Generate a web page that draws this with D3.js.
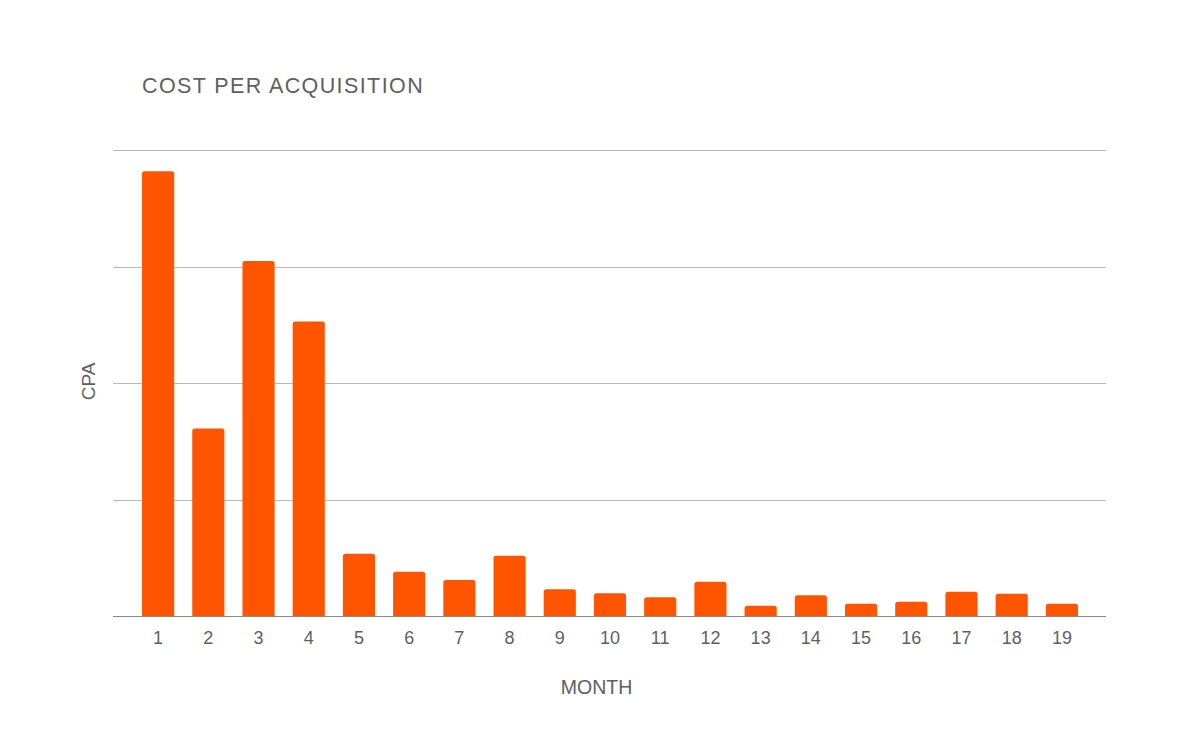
<!DOCTYPE html>
<html lang="en">
<head>
    <meta charset="UTF-8">
    <title>Cost per acquisition</title>
    <style>
        body { margin: 0; background: #fff; }
        text { font-family: "Liberation Sans", Arial, sans-serif; fill: #5f5f5f; }
    </style>
</head>
<body>
<script src="https://cdnjs.cloudflare.com/ajax/libs/d3/7.8.5/d3.min.js" charset="utf-8"></script>
<script>
    // values, one gridline step = 1 unit
    var months = ['1','2','3','4','5','6','7','8','9','10','11','12','13','14','15','16','17','18','19'];
    var cpa = [3.82, 1.61, 3.05, 2.53, 0.535, 0.38, 0.31, 0.518, 0.23, 0.195, 0.16, 0.295, 0.088, 0.178, 0.106, 0.123, 0.209, 0.192, 0.106];
    var gridTicks = [0, 1, 2, 3, 4];

    var width = 1200, height = 742;

    var svg = d3.select('body')
            .append('svg')
            .attr('width', width)
            .attr('height', height);

    var x = d3.scaleBand()
            .domain(months)
            .range([133, 1087])
            .paddingInner(0.36)
            .paddingOuter(0.18);

    var y = d3.scaleLinear()
            .domain([0, 4])
            .range([616, 150.3]);

    // gridlines
    svg.selectAll('line.grid')
            .data(gridTicks)
            .enter()
            .append('line')
            .attr('class', 'grid')
            .attr('x1', 113)
            .attr('x2', 1106)
            .attr('y1', function (d) { return Math.round(y(d)) + 0.5 })
            .attr('y2', function (d) { return Math.round(y(d)) + 0.5 })
            .attr('stroke', function (d) { return d === 0 ? '#8a8a8a' : '#b9b9b9' })
            .attr('stroke-width', 1);

    // bars, rounded top corners only
    var r = 2.5;
    svg.selectAll('path.bar')
            .data(cpa)
            .enter()
            .append('path')
            .attr('class', 'bar')
            .attr('fill', '#ff5500')
            .attr('d', function (d, i) {
                var x0 = x(months[i]), w = x.bandwidth();
                var top = y(d), base = y(0);
                return 'M' + x0 + ',' + base +
                    'V' + (top + r) +
                    'Q' + x0 + ',' + top + ' ' + (x0 + r) + ',' + top +
                    'H' + (x0 + w - r) +
                    'Q' + (x0 + w) + ',' + top + ' ' + (x0 + w) + ',' + (top + r) +
                    'V' + base + 'Z';
            });

    // x axis labels
    var xAxis = d3.axisBottom(x).tickSize(0).tickPadding(15.5);
    var gx = svg.append('g')
            .attr('transform', 'translate(0,616)')
            .call(xAxis);
    gx.select('.domain').remove();
    gx.selectAll('text')
            .attr('font-size', '18px')
            .style('font-family', '"Liberation Sans", Arial, sans-serif')
            .attr('fill', '#5f5f5f');

    svg.append('text')
            .attr('x', 142)
            .attr('y', 93.3)
            .attr('font-size', '21.5px')
            .attr('letter-spacing', '1.4px')
            .text('COST PER ACQUISITION');

    svg.append('text')
            .attr('x', 596.5)
            .attr('y', 694)
            .attr('text-anchor', 'middle')
            .attr('font-size', '19.5px')
            .text('MONTH');

    svg.append('text')
            .attr('transform', 'translate(95,381.5) rotate(-90)')
            .attr('text-anchor', 'middle')
            .attr('font-size', '19px')
            .text('CPA');
</script>
</body>
</html>
